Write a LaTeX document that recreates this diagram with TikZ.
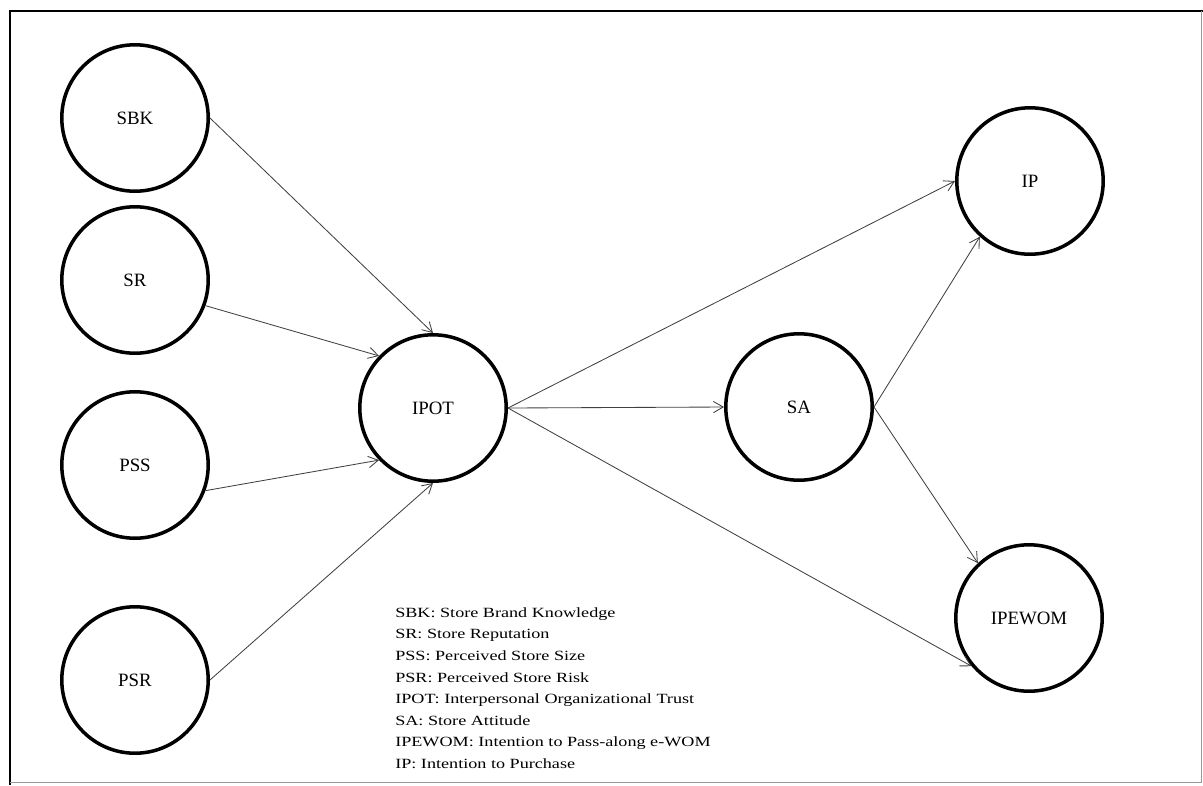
\documentclass[tikz,border=0pt]{standalone}
\usepackage{fontspec}
\setmainfont{Liberation Serif}
\newfontfamily\legendfont[FakeStretch=1.29]{Liberation Serif}
\usepackage{tikz}
\usetikzlibrary{arrows.meta}

\begin{document}
\begin{tikzpicture}[x=0.025cm,y=-0.025cm,
	construct/.style={circle,draw,line width=2.5pt,minimum size=3.66cm,inner sep=0pt,font=\fontsize{13.4}{16}\selectfont},
	link/.style={draw=black!75,line width=0.6pt,-{Straight Barb[length=7pt,width=8pt]}}]
	
	\useasboundingbox (0,0) rectangle (1203,785);
	
	% frame
	\draw [line width=1.8pt] (10,785) -- (10,11) -- (1203,11);
	
	\draw [black!40,line width=0.5pt] (1201,11) -- (1201,782) -- (10,782);
	
	\node [construct] (sbk) at (135,118) {SBK};
	
	\node [construct] (sr) at (135,280) {SR};
	
	\node [construct] (pss) at (135,465) {PSS};
	
	\node [construct] (psr) at (135,680) {PSR};
	
	\node [construct] (ipot) at (433,408) {IPOT};
	
	\node [construct] (sa) at (799,407) {SA};
	
	\node [construct] (ip) at (1030,181) {IP};
	
	\node [construct] (ipewom) at (1029,618) {IPEWOM};
	
	\draw [link] (sbk.east) -- (ipot.north);
	
	\draw [link] (sr.-20) -- (ipot.136);
	
	\draw [link] (pss.-20) -- (ipot.224);
	
	\draw [link] (psr.east) -- (ipot.south);
	
	\draw [link] (ipot.east) -- (ip.west);
	
	\draw [link] (ipot.east) -- (sa.west);
	
	\draw [link] (ipot.east) -- (ipewom.220);
	
	\draw [link] (sa.east) -- (ip.228);
	
	\draw [link] (sa.east) -- (ipewom.133);
	
	% legend
	\node [anchor=north west,inner sep=0pt,align=left,font=\legendfont\fontsize{10}{15.4}\selectfont] (legend) at (395,607) {SBK: Store Brand Knowledge\\
		SR: Store Reputation\\
		PSS: Perceived Store Size\\
		PSR: Perceived Store Risk\\
		IPOT: Interpersonal Organizational Trust\\
		SA: Store Attitude\\
		IPEWOM: Intention to Pass-along e-WOM\\
		IP: Intention to Purchase};
	
\end{tikzpicture}
\end{document}
